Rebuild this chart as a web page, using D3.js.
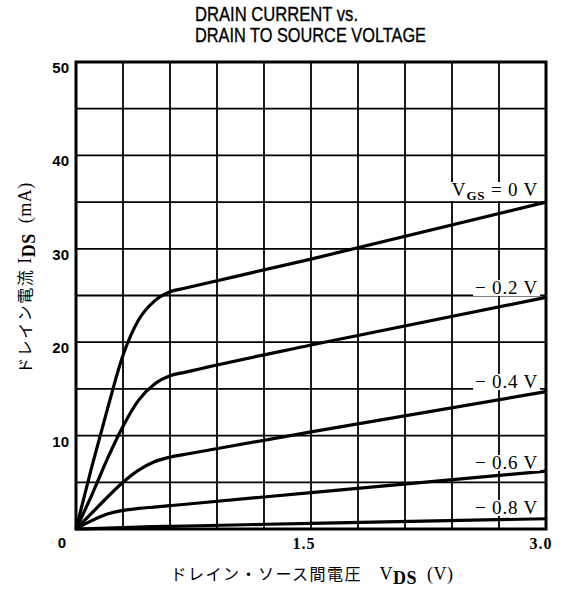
<!DOCTYPE html>
<html>
  <head>
    <meta charset="utf-8">
    <script src="https://d3js.org/d3.v7.min.js"></script>
    <style>
      body { margin: 0; background: #fff; }
      svg { display: block; }
      .tick-y { font-family: "Liberation Sans", Arial, sans-serif; font-weight: bold; font-size: 15px; }
      .tick-x { font-family: "Liberation Serif", "Times New Roman", serif; font-weight: bold; font-size: 16px; }
      .curve-label { font-family: "Liberation Serif", "Times New Roman", serif; font-size: 19px; letter-spacing: 0.8px; }
      .axis-title { font-family: "Noto Sans CJK JP", sans-serif; font-size: 16px; letter-spacing: 1.5px; }
      .axis-title .latin { font-family: "Liberation Serif", serif; font-size: 18px; letter-spacing: 0.5px; }
      .title { font-family: "Liberation Sans", Arial, sans-serif; font-size: 20px; stroke: #000; stroke-width: 0.35px; }
    </style>
  </head>
<body>
  <script type="text/javascript">
    // V_DS sample points (V) and drain current (mA)
    var vds = [0, 0.1, 0.2, 0.3, 0.4, 0.5, 0.6, 0.7, 1.5, 3.0];
    var ids_0v   = [0, 6.6, 12.8, 18.6, 22.4, 24.4, 25.4, 25.8, 28.9, 35.0];
    var ids_m02v = [0, 3.6, 7.5, 11.0, 13.8, 15.5, 16.4, 16.8, 19.7, 24.8];
    var ids_m04v = [0, 1.7, 3.4, 5.0, 6.3, 7.2, 7.7, 8.0, 10.4, 14.7];
    var ids_m06v = [0, 0.9, 1.6, 2.0, 2.2, 2.35, 2.5, 2.65, 3.9, 6.2];
    var ids_m08v = [0, 0.05, 0.1, 0.15, 0.2, 0.25, 0.28, 0.32, 0.6, 1.1];

    var vgsLabels = ["0 V", "\u2212 0.2 V", "\u2212 0.4 V", "\u2212 0.6 V", "\u2212 0.8 V"];
    var yTickValues = [0, 5, 10, 15, 20, 25, 30, 35, 40, 45, 50];
    var yTickLabels = [10, 20, 30, 40, 50];
    var xTickValues = [0, 0.3, 0.6, 0.9, 1.2, 1.5, 1.8, 2.1, 2.4, 2.7, 3.0];
    var xTickLabels = ["1.5", "3.0"];

    function draw() {
      "use strict";
      var width = 562, height = 594;
      var plotL = 76, plotR = 546, plotT = 62, plotB = 529;

      var svg = d3.select("body").append("svg")
        .attr("width", width)
        .attr("height", height);

      var x = d3.scaleLinear().domain([0, 3]).range([plotL, plotR]);
      var y = d3.scaleLinear().domain([0, 50]).range([plotB, plotT]);

      // title
      svg.append("text").attr("class", "title")
        .attr("x", 195).attr("y", 21)
        .attr("textLength", 163).attr("lengthAdjust", "spacingAndGlyphs")
        .text("DRAIN CURRENT vs.");
      svg.append("text").attr("class", "title")
        .attr("x", 195).attr("y", 42)
        .attr("textLength", 231).attr("lengthAdjust", "spacingAndGlyphs")
        .text("DRAIN TO SOURCE VOLTAGE");

      // grid
      var grid = svg.append("g").attr("stroke", "#000").attr("stroke-width", 1.8);
      grid.selectAll("line.h").data(yTickValues).enter().append("line")
        .attr("class", "h")
        .attr("x1", plotL).attr("x2", plotR)
        .attr("y1", function(d) { return y(d); })
        .attr("y2", function(d) { return y(d); });
      grid.selectAll("line.v").data(xTickValues).enter().append("line")
        .attr("class", "v")
        .attr("y1", plotT).attr("y2", plotB)
        .attr("x1", function(d) { return x(d); })
        .attr("x2", function(d) { return x(d); });

      // frame
      svg.append("rect")
        .attr("x", plotL).attr("y", plotT)
        .attr("width", plotR - plotL).attr("height", plotB - plotT)
        .attr("fill", "none").attr("stroke", "#000").attr("stroke-width", 3);

      // curves
      var series = [ids_0v, ids_m02v, ids_m04v, ids_m06v, ids_m08v];
      var line = d3.line()
        .x(function(d) { return x(d[0]); })
        .y(function(d) { return y(d[1]); })
        .curve(d3.curveMonotoneX);
      svg.append("g").selectAll("path").data(series).enter().append("path")
        .attr("d", function(s) { return line(vds.map(function(v, i) { return [v, s[i]]; })); })
        .attr("fill", "none").attr("stroke", "#000").attr("stroke-width", 3.2)
        .attr("stroke-linejoin", "round");

      // curve labels, white box behind like the original
      var labelY = [196, 294, 388, 469, 514];
      var lab = svg.append("g");
      vgsLabels.forEach(function(t, i) {
        var g = lab.append("g");
        var txt = g.append("text").attr("class", "curve-label")
          .attr("x", 538).attr("y", labelY[i]).attr("text-anchor", "end");
        if (i === 0) {
          txt.append("tspan").text("V");
          txt.append("tspan").attr("font-size", 13).attr("font-weight", "bold").attr("dy", 4).text("GS");
          txt.append("tspan").attr("dy", -4).text("\u00a0= " + t);
        } else {
          txt.text(t);
        }
        var bb = txt.node().getBBox();
        g.insert("rect", "text")
          .attr("x", bb.x - 2).attr("y", bb.y + 3)
          .attr("width", bb.width + 4).attr("height", bb.height - 5)
          .attr("fill", "#fff");
      });

      // y tick labels
      svg.selectAll("text.tick-y").data(yTickLabels).enter().append("text")
        .attr("class", "tick-y")
        .attr("x", plotL - 7)
        .attr("y", function(d) { return y(d) + 11; })
        .attr("text-anchor", "end")
        .text(function(d) { return d; });
      svg.append("text").attr("class", "tick-y")
        .attr("x", x(0) - 14).attr("y", 548)
        .attr("text-anchor", "middle").text("0");

      // x tick labels
      svg.selectAll("text.tick-x").data(xTickLabels).enter().append("text")
        .attr("class", "tick-x")
        .attr("x", function(d, i) { return i === 0 ? x(+d) - 7 : x(+d) - 5; })
        .attr("y", 549)
        .attr("text-anchor", "middle")
        .attr("letter-spacing", 1)
        .text(function(d) { return d; });

      // x axis title
      var xt = svg.append("text").attr("class", "axis-title")
        .attr("x", 312).attr("y", 580).attr("text-anchor", "middle");
      xt.append("tspan").text("ドレイン・ソース間電圧　");
      xt.append("tspan").attr("class", "latin").text("V");
      xt.append("tspan").attr("class", "latin").attr("font-size", 13).attr("font-weight", "bold").attr("dy", 4).text("DS");
      xt.append("tspan").attr("class", "latin").attr("dy", -4).text("\u00a0\u00a0(V)");

      // y axis title
      var yt = svg.append("text").attr("class", "axis-title")
        .attr("transform", "translate(31,278) rotate(-90)")
        .attr("text-anchor", "middle");
      yt.append("tspan").text("ドレイン電流\u00a0");
      yt.append("tspan").attr("class", "latin").text("I");
      yt.append("tspan").attr("class", "latin").attr("font-size", 13).attr("font-weight", "bold").attr("dy", 4).text("DS");
      yt.append("tspan").attr("class", "latin").attr("dy", -4).text("\u00a0\u00a0(mA)");
    }

    draw();
  </script>
</body>
</html>
